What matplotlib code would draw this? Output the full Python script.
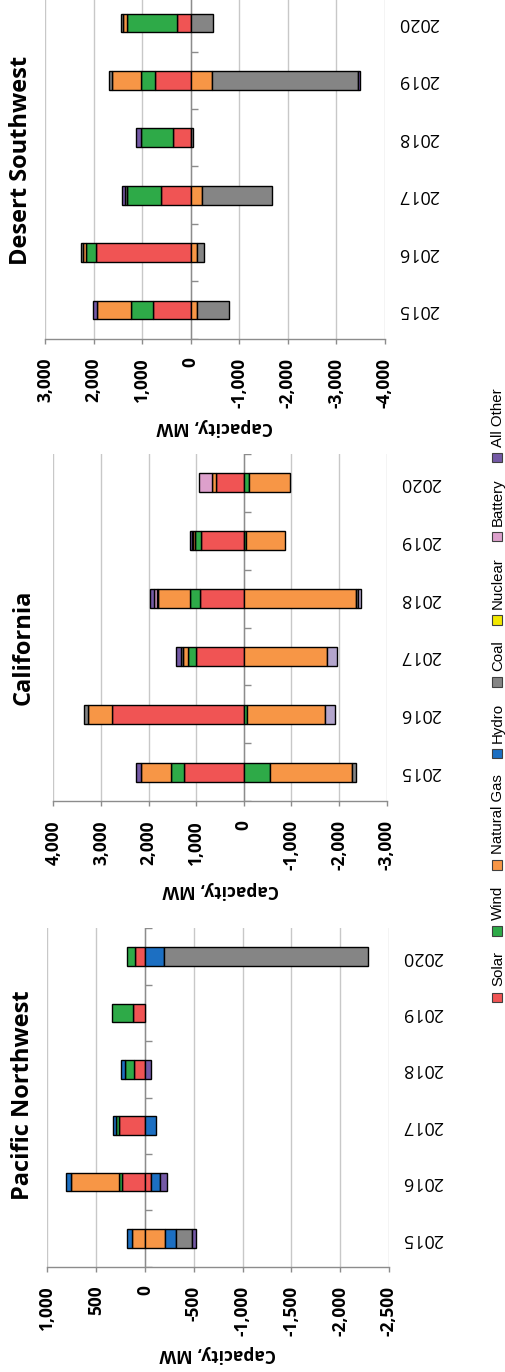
import matplotlib.pyplot as plt
from matplotlib.patches import Rectangle
from matplotlib.ticker import FuncFormatter
import numpy as np

# Data (MW), years 2015..2020
years = ["2015", "2016", "2017", "2018", "2019", "2020"]
series = ["Solar", "Wind", "Natural Gas", "Hydro", "Coal", "Nuclear", "Battery", "All Other", "Other retired"]
colors = ["#F05454", "#2EAA48", "#F79646", "#1C6FC2", "#858585", "#F2E800", "#DDA0CC", "#7459A6", "#B3A5CC"]
legend_names = series[:8]

# Pacific Northwest: additions / retirements, one row per series
pnw_add = [
    [0, 232, 263, 109, 126, 102],
    [0, 38, 38, 96, 212, 85],
    [137, 491, 0, 0, 0, 0],
    [44, 48, 24, 41, 0, 0],
    [0, 0, 0, 0, 0, 0],
    [0, 0, 0, 0, 0, 0],
    [0, 0, 0, 0, 0, 0],
    [0, 0, 0, 0, 0, 0],
    [0, 0, 0, 0, 0, 0],
]
pnw_ret = [
    [0, -58, 0, 0, 0, 0],
    [0, 0, 0, 0, 0, 0],
    [-205, 0, 0, 0, 0, 0],
    [-113, -99, -109, 0, 0, -198],
    [-167, 0, 0, 0, 0, -2089],
    [0, 0, 0, 0, 0, 0],
    [0, 0, 0, 0, 0, 0],
    [-34, -68, 0, -58, 0, 0],
    [0, 0, 0, 0, 0, 0],
]

# California
ca_add = [
    [1252, 2776, 1014, 916, 902, 580],
    [287, 0, 168, 217, 126, 0],
    [622, 490, 98, 664, 35, 98],
    [0, 0, 0, 0, 0, 0],
    [0, 84, 45, 25, 35, 0],
    [0, 0, 0, 0, 0, 0],
    [0, 0, 0, 56, 0, 259],
    [105, 0, 105, 90, 42, 0],
    [0, 0, 0, 0, 0, 0],
]
ca_ret = [
    [0, 0, 0, 0, 0, 0],
    [-545, -70, 0, 0, -45, -112],
    [-1727, -1643, -1748, -2364, -830, -853],
    [0, 0, 0, 0, 0, 0],
    [-91, 0, 0, -35, 0, 0],
    [0, 0, 0, 0, 0, 0],
    [0, 0, 0, 0, 0, 0],
    [0, 0, 0, 0, 0, 0],
    [0, -196, -210, -56, 0, 0],
]

# Desert Southwest
dsw_add = [
    [786, 1959, 621, 359, 738, 276],
    [448, 193, 690, 669, 290, 1034],
    [697, 69, 0, 0, 593, 83],
    [0, 0, 0, 0, 0, 0],
    [0, 41, 45, 0, 62, 48],
    [0, 0, 0, 0, 0, 0],
    [0, 0, 0, 0, 0, 0],
    [83, 0, 55, 103, 0, 0],
    [0, 0, 0, 0, 0, 0],
]
dsw_ret = [
    [0, 0, 0, 0, 0, 0],
    [0, 0, 0, 0, 0, 0],
    [-124, -138, -241, 0, -448, 0],
    [0, 0, 0, 0, 0, 0],
    [-669, -145, -1434, -40, -2986, -455],
    [0, 0, 0, 0, 0, 0],
    [0, 0, 0, 0, 0, 0],
    [0, 0, 0, 0, -55, 0],
    [0, 0, 0, 0, 0, 0],
]

W, H = 505, 1372
FONT = "Open Sans"
plt.rcParams["font.family"] = [FONT, "DejaVu Sans"]

fig = plt.figure(figsize=(W / 100, H / 100), dpi=100)


def fx(x):
    return x / W


def fy(y):
    return 1 - y / H


def add_axes_px(left, top, right, bottom):
    return fig.add_axes([fx(left), fy(bottom), (right - left) / W, (bottom - top) / H])


def draw_panel(ax, add, ret, hi, lo, step):
    y = np.arange(len(years))
    for block in (add, ret):
        base = np.zeros(len(years))
        for i, row in enumerate(block):
            row = np.array(row, dtype=float)
            m = row != 0
            if m.any():
                ax.barh(y[m], row[m], left=base[m], height=0.33, color=colors[i],
                        edgecolor="black", linewidth=1.0, zorder=3)
            base += row

    ax.set_xlim(hi, lo)
    ax.set_ylim(-0.5, len(years) - 0.5)
    ax.set_xticks(np.arange(lo, hi + 1, step))
    ax.xaxis.set_major_formatter(FuncFormatter(lambda v, p: f"{v:,.0f}"))
    ax.xaxis.grid(True, color="#C8C8C8", linewidth=1.0)
    ax.set_axisbelow(True)
    for s in ("top", "left", "right"):
        ax.spines[s].set_visible(False)
    ax.spines["bottom"].set_color("#8C8C8C")
    ax.spines["bottom"].set_linewidth(1.0)
    ax.tick_params(axis="x", length=3.6, width=1.0, color="#8C8C8C", pad=10,
                   labelrotation=90, labelsize=12.5)
    for lab in ax.get_xticklabels():
        lab.set_fontweight("bold")

    # category axis at zero with ticks between categories
    ax.axvline(0, color="#8C8C8C", linewidth=1.0, zorder=2)
    ax.plot(np.zeros(len(years) + 1), np.arange(-0.5, len(years)), linestyle="none",
            marker=1, markersize=5, markeredgewidth=1.0, color="#8C8C8C", zorder=2)

    ax.yaxis.tick_right()
    ax.set_yticks(y, years)
    ax.tick_params(axis="y", length=0, pad=9.4, labelsize=13, labelrotation=180)
    for lab in ax.get_yticklabels():
        lab.set_va("center")


panels = [
    ("Desert Southwest", dsw_add, dsw_ret, 3000, -4000, 1000,
     (45, -5.7, 385, 338.7), (21, 160), (215, 427)),
    ("California", ca_add, ca_ret, 4000, -3000, 1000,
     (53.3, 453.8, 386.7, 801.2), (24, 647), (221, 890)),
    ("Pacific Northwest", pnw_add, pnw_ret, 1000, -2500, 500,
     (47.3, 928.4, 389, 1266.7), (23, 1095), (218, 1354)),
]

for title, add, ret, hi, lo, step, rect, tpos, lpos in panels:
    ax = add_axes_px(*rect)
    draw_panel(ax, add, ret, hi, lo, step)
    fig.text(fx(tpos[0]), fy(tpos[1]), title, rotation=90, ha="center", va="center",
             fontsize=17, fontweight="bold")
    fig.text(fx(lpos[0]), fy(lpos[1]), "Capacity, MW", rotation=180, ha="center", va="center",
             fontsize=12.5, fontweight="bold")

# legend, laid out bottom-to-top like the rotated original
renderer = fig.canvas.get_renderer()
y_cur = 1002.0  # bottom of first marker (px)
msize = 9.5
for i, name in enumerate(legend_names):
    fig.patches.append(Rectangle((fx(497 - msize / 2), fy(y_cur)), msize / W, msize / H,
                                 facecolor=colors[i], edgecolor="#404040", linewidth=0.8,
                                 transform=fig.transFigure, figure=fig))
    y_cur -= msize + 6
    t = fig.text(fx(498), fy(y_cur), name, rotation=90, ha="center", va="bottom",
                 fontsize=10.8, family=["Liberation Sans", "DejaVu Sans"])
    ext = t.get_window_extent(renderer)
    y_cur -= ext.height + 16

fig.savefig("out.png", dpi=100)
